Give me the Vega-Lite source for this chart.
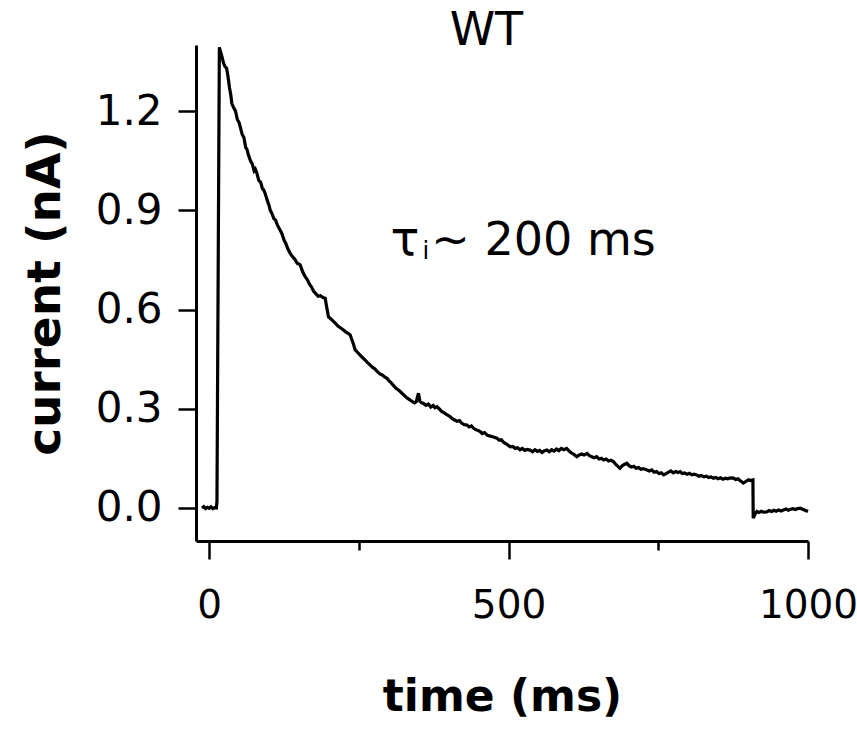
{
  "$schema": "https://vega.github.io/schema/vega-lite/v6.json",
  "autosize": "none",
  "width": 612,
  "height": 496,
  "padding": {"left": 196, "top": 45, "right": 49, "bottom": 193},
  "background": "white",
  "config": {
    "view": {"stroke": null},
    "font": "DejaVu Sans",
    "axis": {"grid": false, "domainColor": "black", "domainWidth": 3, "tickColor": "black", "tickWidth": 2.5, "labelColor": "black", "titleColor": "black", "labelFont": "DejaVu Sans", "titleFont": "DejaVu Sans"}
  },
  "datasets": {
    "trace": [
      {"t": -12, "v": 0.0}, {"t": -9, "v": 0.004}, {"t": -6, "v": -0.002}, {"t": -3, "v": 0.002}, {"t": 0, "v": -0.001}, {"t": 3, "v": 0.003}, {"t": 6, "v": -0.002}, {"t": 9, "v": 0.001}, {"t": 12, "v": 0.0}, {"t": 13, "v": 0.02},
      {"t": 17, "v": 1.393}, {"t": 19, "v": 1.38}, {"t": 22, "v": 1.36}, {"t": 24, "v": 1.345}, {"t": 26.7, "v": 1.334}, {"t": 29, "v": 1.33}, {"t": 31, "v": 1.31}, {"t": 34, "v": 1.27}, {"t": 36, "v": 1.25}, {"t": 37.9, "v": 1.223},
      {"t": 41, "v": 1.21}, {"t": 44, "v": 1.2}, {"t": 47, "v": 1.175}, {"t": 50, "v": 1.165}, {"t": 51.8, "v": 1.153}, {"t": 55, "v": 1.13}, {"t": 58, "v": 1.12}, {"t": 61, "v": 1.09}, {"t": 63, "v": 1.085}, {"t": 65.6, "v": 1.067},
      {"t": 69, "v": 1.05}, {"t": 72, "v": 1.04}, {"t": 75, "v": 1.02}, {"t": 77, "v": 1.025}, {"t": 79.7, "v": 1.012}, {"t": 83, "v": 0.99}, {"t": 86, "v": 0.985}, {"t": 89, "v": 0.965}, {"t": 91, "v": 0.962}, {"t": 93.5, "v": 0.951},
      {"t": 97, "v": 0.93}, {"t": 100, "v": 0.915}, {"t": 102, "v": 0.9}, {"t": 104.7, "v": 0.891}, {"t": 108, "v": 0.875}, {"t": 111, "v": 0.87}, {"t": 114, "v": 0.855}, {"t": 117, "v": 0.845}, {"t": 121.4, "v": 0.83}, {"t": 125, "v": 0.81},
      {"t": 128, "v": 0.8}, {"t": 131, "v": 0.785}, {"t": 133, "v": 0.778}, {"t": 135.3, "v": 0.77}, {"t": 139, "v": 0.76}, {"t": 143, "v": 0.752}, {"t": 147, "v": 0.74}, {"t": 152, "v": 0.735}, {"t": 156, "v": 0.715}, {"t": 160, "v": 0.7},
      {"t": 164, "v": 0.69}, {"t": 168, "v": 0.675}, {"t": 171, "v": 0.668}, {"t": 174.2, "v": 0.656}, {"t": 178, "v": 0.648}, {"t": 182, "v": 0.64}, {"t": 186, "v": 0.642}, {"t": 190, "v": 0.636}, {"t": 193.7, "v": 0.634}, {"t": 196, "v": 0.61},
      {"t": 199.2, "v": 0.578}, {"t": 203, "v": 0.572}, {"t": 207, "v": 0.565}, {"t": 211, "v": 0.558}, {"t": 215, "v": 0.55}, {"t": 219, "v": 0.545}, {"t": 224.3, "v": 0.538}, {"t": 228, "v": 0.532}, {"t": 232, "v": 0.528}, {"t": 235.5, "v": 0.523},
      {"t": 238, "v": 0.51}, {"t": 241, "v": 0.495}, {"t": 243.8, "v": 0.478}, {"t": 248, "v": 0.47}, {"t": 252, "v": 0.462}, {"t": 256, "v": 0.455}, {"t": 260, "v": 0.448}, {"t": 264, "v": 0.44}, {"t": 268.9, "v": 0.432}, {"t": 273, "v": 0.425},
      {"t": 277, "v": 0.42}, {"t": 281, "v": 0.412}, {"t": 285, "v": 0.405}, {"t": 289, "v": 0.402}, {"t": 293, "v": 0.396}, {"t": 296.8, "v": 0.392}, {"t": 300, "v": 0.385}, {"t": 304, "v": 0.378}, {"t": 308, "v": 0.37}, {"t": 312, "v": 0.362},
      {"t": 315, "v": 0.358}, {"t": 319, "v": 0.352}, {"t": 323, "v": 0.345}, {"t": 327, "v": 0.338}, {"t": 331, "v": 0.332}, {"t": 335.7, "v": 0.326}, {"t": 339, "v": 0.322}, {"t": 343, "v": 0.318}, {"t": 346, "v": 0.322}, {"t": 349.5, "v": 0.347},
      {"t": 352, "v": 0.322}, {"t": 355, "v": 0.318}, {"t": 357.9, "v": 0.316}, {"t": 362, "v": 0.31}, {"t": 366, "v": 0.314}, {"t": 370, "v": 0.305}, {"t": 374, "v": 0.31}, {"t": 377, "v": 0.303}, {"t": 380.3, "v": 0.306}, {"t": 384, "v": 0.3},
      {"t": 388, "v": 0.292}, {"t": 392, "v": 0.288}, {"t": 396, "v": 0.283}, {"t": 399, "v": 0.28}, {"t": 402.5, "v": 0.276}, {"t": 406, "v": 0.27}, {"t": 410, "v": 0.266}, {"t": 414, "v": 0.262}, {"t": 418, "v": 0.264}, {"t": 422, "v": 0.256},
      {"t": 426, "v": 0.252}, {"t": 430.4, "v": 0.251}, {"t": 434, "v": 0.245}, {"t": 438, "v": 0.248}, {"t": 442, "v": 0.24}, {"t": 446, "v": 0.236}, {"t": 449, "v": 0.234}, {"t": 452.6, "v": 0.231}, {"t": 456, "v": 0.225}, {"t": 460, "v": 0.228},
      {"t": 464, "v": 0.22}, {"t": 468, "v": 0.218}, {"t": 472, "v": 0.216}, {"t": 476, "v": 0.214}, {"t": 480.5, "v": 0.211}, {"t": 484, "v": 0.205}, {"t": 488, "v": 0.206}, {"t": 492, "v": 0.198}, {"t": 496, "v": 0.194}, {"t": 499, "v": 0.19},
      {"t": 502.7, "v": 0.185}, {"t": 507, "v": 0.186}, {"t": 511, "v": 0.18}, {"t": 515, "v": 0.182}, {"t": 519, "v": 0.176}, {"t": 523, "v": 0.18}, {"t": 527, "v": 0.174}, {"t": 531, "v": 0.177}, {"t": 536, "v": 0.175}, {"t": 540, "v": 0.17},
      {"t": 544, "v": 0.176}, {"t": 548, "v": 0.171}, {"t": 552, "v": 0.174}, {"t": 556, "v": 0.168}, {"t": 560, "v": 0.173}, {"t": 564, "v": 0.175}, {"t": 568, "v": 0.17}, {"t": 572, "v": 0.176}, {"t": 576, "v": 0.172}, {"t": 580, "v": 0.178},
      {"t": 584, "v": 0.173}, {"t": 588, "v": 0.18}, {"t": 592, "v": 0.176}, {"t": 597, "v": 0.18}, {"t": 601, "v": 0.172}, {"t": 605, "v": 0.166}, {"t": 609, "v": 0.162}, {"t": 614, "v": 0.155}, {"t": 618, "v": 0.16}, {"t": 622, "v": 0.163},
      {"t": 626, "v": 0.16}, {"t": 631, "v": 0.165}, {"t": 635, "v": 0.158}, {"t": 639, "v": 0.155}, {"t": 643, "v": 0.152}, {"t": 647, "v": 0.155}, {"t": 651, "v": 0.148}, {"t": 655, "v": 0.15}, {"t": 659, "v": 0.145}, {"t": 663, "v": 0.148},
      {"t": 667, "v": 0.142}, {"t": 671, "v": 0.144}, {"t": 675, "v": 0.14}, {"t": 679, "v": 0.132}, {"t": 683, "v": 0.125}, {"t": 686, "v": 0.12}, {"t": 690, "v": 0.128}, {"t": 694, "v": 0.132}, {"t": 697.5, "v": 0.135}, {"t": 701, "v": 0.128},
      {"t": 705, "v": 0.124}, {"t": 709, "v": 0.126}, {"t": 713, "v": 0.12}, {"t": 717, "v": 0.122}, {"t": 721, "v": 0.117}, {"t": 725, "v": 0.119}, {"t": 731, "v": 0.115}, {"t": 735, "v": 0.112}, {"t": 739, "v": 0.115}, {"t": 743, "v": 0.108},
      {"t": 747, "v": 0.11}, {"t": 751, "v": 0.104}, {"t": 755, "v": 0.106}, {"t": 759, "v": 0.1}, {"t": 763, "v": 0.104}, {"t": 767, "v": 0.108}, {"t": 771, "v": 0.112}, {"t": 775, "v": 0.106}, {"t": 779, "v": 0.11}, {"t": 783, "v": 0.107},
      {"t": 786.6, "v": 0.11}, {"t": 790, "v": 0.104}, {"t": 794, "v": 0.106}, {"t": 798, "v": 0.102}, {"t": 802, "v": 0.105}, {"t": 806, "v": 0.1}, {"t": 810, "v": 0.102}, {"t": 814, "v": 0.1}, {"t": 818, "v": 0.096}, {"t": 822, "v": 0.098},
      {"t": 826, "v": 0.094}, {"t": 830, "v": 0.096}, {"t": 834, "v": 0.092}, {"t": 838, "v": 0.094}, {"t": 842, "v": 0.09}, {"t": 846, "v": 0.092}, {"t": 850, "v": 0.088}, {"t": 854, "v": 0.091}, {"t": 858, "v": 0.087}, {"t": 862, "v": 0.09},
      {"t": 866, "v": 0.088}, {"t": 870, "v": 0.091}, {"t": 875.6, "v": 0.09}, {"t": 879, "v": 0.086}, {"t": 883, "v": 0.088}, {"t": 887, "v": 0.082}, {"t": 892, "v": 0.075}, {"t": 896, "v": 0.08}, {"t": 900.6, "v": 0.085}, {"t": 904, "v": 0.083},
      {"t": 908, "v": 0.085}, {"t": 908.5, "v": -0.031}, {"t": 911, "v": -0.02}, {"t": 914.6, "v": -0.011}, {"t": 918, "v": -0.014}, {"t": 922, "v": -0.01}, {"t": 926, "v": -0.013}, {"t": 931, "v": -0.012}, {"t": 935, "v": -0.008}, {"t": 939, "v": -0.011},
      {"t": 943, "v": -0.007}, {"t": 947, "v": -0.01}, {"t": 951, "v": -0.006}, {"t": 955, "v": -0.009}, {"t": 959, "v": -0.006}, {"t": 963, "v": -0.003}, {"t": 967, "v": -0.007}, {"t": 971, "v": -0.004}, {"t": 975, "v": -0.002}, {"t": 979, "v": -0.005},
      {"t": 983, "v": -0.002}, {"t": 987, "v": -0.001}, {"t": 991, "v": -0.004}, {"t": 995, "v": -0.007}, {"t": 1000, "v": -0.011}
    ],
    "notes": [
      {"t": 327, "v": 0.765, "label": "τ", "part": "tau"},
      {"t": 362, "v": 0.752, "label": "i", "part": "sub"},
      {"t": 371, "v": 0.765, "label": "~ 200 ms", "part": "rest"},
      {"t": 463, "v": 1.40, "label": "WT", "part": "title"}
    ]
  },
  "layer": [
    {
      "data": {"name": "trace"},
      "mark": {"type": "line", "color": "black", "strokeWidth": 3.2, "clip": false, "interpolate": "linear"},
      "encoding": {
        "x": {"field": "t", "type": "quantitative", "scale": {"domain": [-22, 1000], "nice": false, "zero": false},
          "axis": {"values": [0, 250, 500, 750, 1000], "format": "d", "title": "time (ms)", "titleFontSize": 44, "titleFontWeight": "bold", "titlePadding": 50,
            "labelExpr": "datum.value % 500 === 0 ? datum.label : ''", "labelFontSize": 39, "labelPadding": 27, "labelFlush": false, "labelOverlap": false,
            "tickSize": {"condition": {"test": "datum.value % 500 === 0", "value": 18}, "value": 9}}},
        "y": {"field": "v", "type": "quantitative", "scale": {"domain": [-0.1, 1.4], "nice": false, "zero": false},
          "axis": {"values": [0, 0.3, 0.6, 0.9, 1.2], "format": ".1f", "title": "current (nA)", "titleFontSize": 47, "titleFontWeight": "bold", "titlePadding": 26,
            "labelFontSize": 42, "labelPadding": 16, "tickSize": 18, "labelFlush": false, "labelOverlap": false}},
        "order": {"field": "t", "type": "quantitative"}
      }
    },
    {
      "data": {"name": "notes"},
      "transform": [{"filter": "datum.part === 'tau'"}],
      "mark": {"type": "text", "fontSize": 48, "align": "center", "baseline": "alphabetic", "color": "black", "font": "DejaVu Sans"},
      "encoding": {"x": {"field": "t", "type": "quantitative"}, "y": {"field": "v", "type": "quantitative"}, "text": {"field": "label"}}
    },
    {
      "data": {"name": "notes"},
      "transform": [{"filter": "datum.part === 'sub'"}],
      "mark": {"type": "text", "fontSize": 24, "align": "center", "baseline": "alphabetic", "color": "black", "font": "DejaVu Sans"},
      "encoding": {"x": {"field": "t", "type": "quantitative"}, "y": {"field": "v", "type": "quantitative"}, "text": {"field": "label"}}
    },
    {
      "data": {"name": "notes"},
      "transform": [{"filter": "datum.part === 'rest'"}],
      "mark": {"type": "text", "fontSize": 46, "align": "left", "baseline": "alphabetic", "color": "black", "font": "DejaVu Sans"},
      "encoding": {"x": {"field": "t", "type": "quantitative"}, "y": {"field": "v", "type": "quantitative"}, "text": {"field": "label"}}
    },
    {
      "data": {"name": "notes"},
      "transform": [{"filter": "datum.part === 'title'"}],
      "mark": {"type": "text", "fontSize": 46, "align": "center", "baseline": "alphabetic", "color": "black", "font": "DejaVu Sans"},
      "encoding": {"x": {"field": "t", "type": "quantitative"}, "y": {"field": "v", "type": "quantitative"}, "text": {"field": "label"}}
    }
  ]
}
